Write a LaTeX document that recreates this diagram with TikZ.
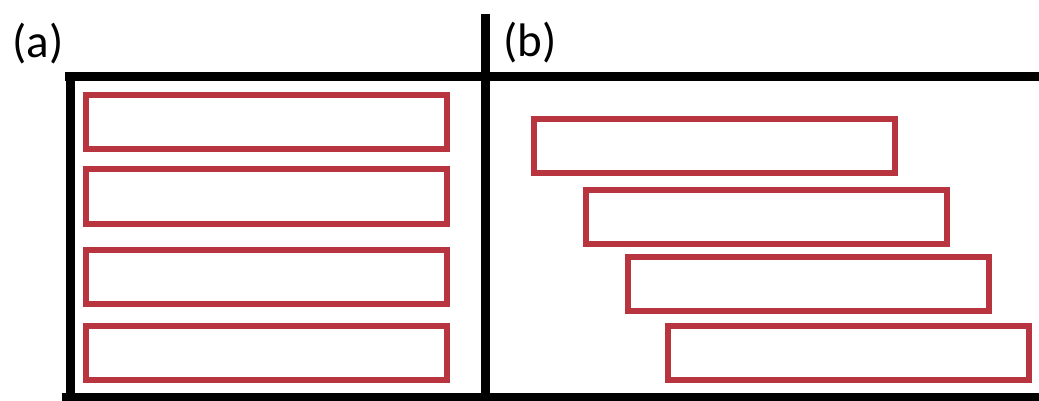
\documentclass[tikz,border=0pt]{standalone}
\usepackage{fontspec}
\setmainfont{Carlito}
\definecolor{boxred}{RGB}{184,52,62}
\begin{document}
\begin{tikzpicture}[x=1pt,y=-1pt,
  frame/.style={line width=9pt,black},
  slab/.style={draw=boxred,line width=6pt,minimum width=361pt,minimum height=54pt,inner sep=0pt},
  lab/.style={font=\fontsize{47}{50}\selectfont,inner sep=0pt}]
\useasboundingbox[fill=white] (0,0) rectangle (1039,401);
% frame lines
\coordinate (tl) at (70,72);
\coordinate (bl) at (70,401);
\coordinate (mt) at (485,14);
\coordinate (mb) at (485,401);
\coordinate (hl) at (65,77);
\coordinate (hr) at (1039,77);
\coordinate (bL) at (62,397);
\coordinate (bR) at (1039,397);
\draw[frame] (tl) -- (bl);
\draw[frame] (mt) -- (mb);
\draw[frame] (hl) -- (hr);
\draw[frame] (bL) -- (bR);
% labels
\node[lab] (la) at (38,44) {(a)};
\node[lab] (lb) at (530,43) {(b)};
% panel (a)
\node[slab] (a1) at (266,122) {};
\node[slab] (a2) at (266,196.5) {};
\node[slab] (a3) at (266,276.5) {};
\node[slab] (a4) at (266,352.5) {};
% panel (b)
\node[slab] (b1) at (714.5,146) {};
\node[slab] (b2) at (766.5,216.5) {};
\node[slab] (b3) at (808.5,284) {};
\node[slab] (b4) at (848.5,353) {};
\end{tikzpicture}
\end{document}
